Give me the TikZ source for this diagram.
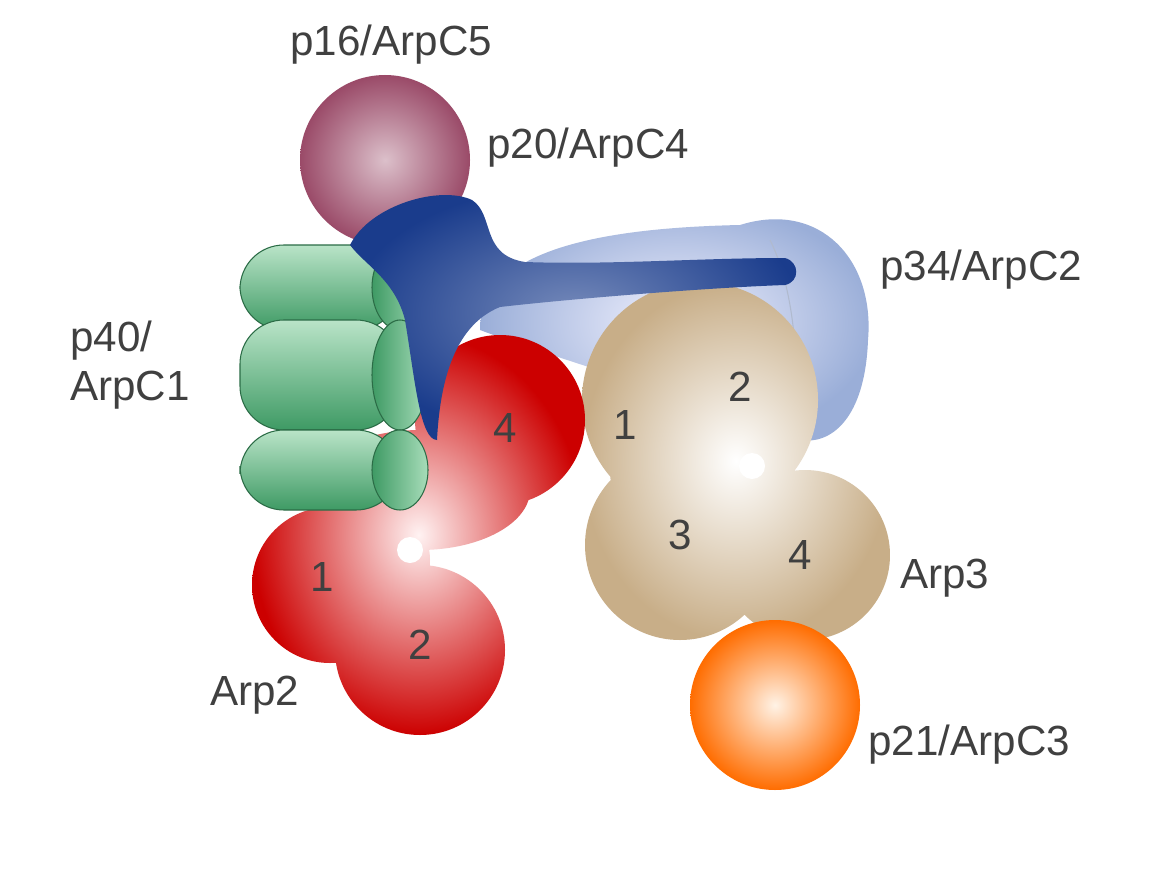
\documentclass[tikz,border=0pt]{standalone}
\usepackage{fontspec}
\setmainfont{Liberation Sans}
\definecolor{mauve}{HTML}{9A4A68}
\definecolor{tan}{HTML}{C8AE88}
\definecolor{lblue}{HTML}{9AAED8}
\definecolor{dblue}{HTML}{1A3C8C}
\definecolor{mint}{HTML}{A8DDBA}
\definecolor{dgreen}{HTML}{3E9A64}
\begin{document}
\begin{tikzpicture}[x=0.02cm,y=-0.02cm,
 lab/.style={font=\fontsize{24}{28}\selectfont,text=black!75,inner sep=0pt},
 num/.style={font=\fontsize{24}{28}\selectfont,text=black!75,inner sep=0pt}]
\useasboundingbox (0,0) rectangle (1166,875);
\fill[white] (0,0) rectangle (1166,875);
% p16
\shade[inner color=mauve!35!white, outer color=mauve] (385,160) circle (85);
% p34 light blue
\shade[inner color=blue!5!white, outer color=lblue]
 (480,330) .. controls (480,250) and (600,228) .. (740,225)
 .. controls (820,200) and (875,260) .. (868,340)
 .. controls (865,420) and (830,445) .. (800,440)
 .. controls (700,400) and (560,360) .. (480,330) -- cycle;
\draw[lblue!80!black!60, line width=0.6pt] (770,240) .. controls (800,300) and (800,400) .. (790,440);
% Arp3 tan (union)
\shade[inner color=white, outer color=tan]
 (700,400) circle (118) (690,470) circle (80) (680,545) circle (95) (805,555) circle (85);
\fill[white] (752,466) circle (13);
% p21
\shade[inner color=orange!10!white, outer color=orange!85!red] (775,705) circle (85);
% Arp2 red (union)
\shade[inner color=red!5!white, outer color=red!80!black]
 (500,420) circle (85) (420,490) ellipse (110 and 60) (330,585) circle (78) (420,650) circle (85) (370,560) circle (60);
\fill[white] (410,550) circle (13);
% p40 green cylinders
\foreach \y/\h in {245/85,320/110,430/80}{
 \shade[top color=mint!80!white, bottom color=dgreen, draw=dgreen!70!black, line width=0.6pt, rounded corners=25]
  (240,\y) rectangle (400,\y+\h);
 \shade[left color=dgreen, right color=mint, draw=dgreen!70!black, line width=0.6pt]
  (400,\y+\h/2) ellipse (28 and \h/2);
}
% p20 blue
\shade[inner color=dblue!60!white, outer color=dblue, draw=none]
 (350,245) .. controls (370,205) and (440,185) .. (472,200)
 .. controls (495,215) and (480,255) .. (525,262)
 .. controls (610,265) and (700,258) .. (785,258)
 .. controls (800,262) and (800,282) .. (785,285)
 .. controls (700,288) and (560,300) .. (500,307)
 .. controls (455,325) and (440,380) .. (437,440)
 .. controls (420,440) and (415,380) .. (405,320)
 .. controls (395,280) and (365,265) .. (350,245) -- cycle;
% labels
\node[lab,anchor=west] (l16) at (290,45) {p16/ArpC5};
\node[lab,anchor=west] (l20) at (487,148) {p20/ArpC4};
\node[lab,anchor=west] (l34) at (880,270) {p34/ArpC2};
\node[lab,align=left,anchor=west] (l40) at (70,365) {p40/\\ArpC1};
\node[lab,anchor=west] (la3) at (900,578) {Arp3};
\node[lab,anchor=west] (la2) at (210,695) {Arp2};
\node[lab,anchor=west] (l21) at (868,745) {p21/ArpC3};
\node[num] (n1) at (625,425) {1};
\node[num] (n2) at (740,387) {2};
\node[num] (n3) at (680,535) {3};
\node[num] (n4) at (800,555) {4};
\node[num] (m4) at (505,428) {4};
\node[num] (m1) at (322,577) {1};
\node[num] (m2) at (420,645) {2};
\end{tikzpicture}
\end{document}
